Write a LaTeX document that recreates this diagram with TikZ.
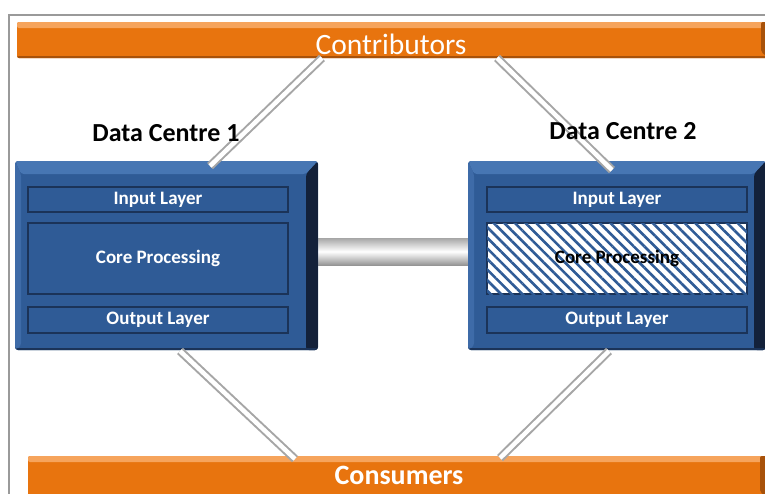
\documentclass[tikz,border=0pt]{standalone}
\usepackage{fontspec}
\setmainfont{Carlito}
\usetikzlibrary{patterns.meta}
\definecolor{orng}{HTML}{E8740E}
\definecolor{orngl}{HTML}{F6A45C}
\definecolor{orngd}{HTML}{A8520A}
\definecolor{boxblue}{HTML}{2F5B96}
\definecolor{boxtop}{HTML}{4776B3}
\definecolor{boxside}{HTML}{13213A}
\definecolor{boxleft}{HTML}{3E6BA8}
\definecolor{rowline}{HTML}{1B3358}
\definecolor{linkgray}{HTML}{A6A6A6}
\definecolor{framegray}{HTML}{9A9A9A}
\tikzset{
  barnode/.style={fill=orng, rounded corners=2pt, inner sep=0pt,
    path picture={
      \fill[orngl] (path picture bounding box.north west) rectangle ([yshift=-6pt]path picture bounding box.north east);
      \fill[orngd] ([yshift=2pt]path picture bounding box.south west) rectangle (path picture bounding box.south east);
      \fill[orngd] ([xshift=-8pt]path picture bounding box.north east) -- (path picture bounding box.north east) -- (path picture bounding box.south east) -- ([xshift=-8pt,yshift=6pt]path picture bounding box.south east) -- cycle;
    }},
  bartext/.style={text=white, inner sep=0pt, font=\fontsize{29.5}{31}\selectfont},
  dcbox/.style={fill=boxblue, rounded corners=3pt, inner sep=0pt,
    minimum height=189pt,
    path picture={
      \fill[boxtop] (path picture bounding box.north west) -- (path picture bounding box.north east) -- ([xshift=-12pt,yshift=-13pt]path picture bounding box.north east) -- ([xshift=6pt,yshift=-13pt]path picture bounding box.north west) -- cycle;
      \fill[boxleft] (path picture bounding box.north west) -- ([xshift=6pt,yshift=-13pt]path picture bounding box.north west) -- ([xshift=6pt,yshift=4pt]path picture bounding box.south west) -- (path picture bounding box.south west) -- cycle;
      \fill[boxside] (path picture bounding box.north east) -- (path picture bounding box.south east) -- ([xshift=-12pt]path picture bounding box.south east) -- ([xshift=-12pt,yshift=-13pt]path picture bounding box.north east) -- cycle;
      \fill[rowline] ([yshift=2pt]path picture bounding box.south west) rectangle (path picture bounding box.south east);
    }},
  rowbox/.style={fill=boxblue, draw=rowline, line width=1.6pt, minimum width=260pt,
    inner sep=0pt, text=white, font=\bfseries\fontsize{19}{21}\selectfont},
  hatchbox/.style={rowbox, fill=white, text=black,
    postaction={pattern={Lines[angle=-45,distance=7.5pt,line width=2.6pt]}, pattern color=boxblue}},
  dclabel/.style={font=\bfseries\fontsize{26}{28}\selectfont, inner sep=0pt},
  link/.style={draw=linkgray, line width=2pt, double=white, double distance=4.5pt},
  tube/.style={inner sep=0pt, top color=linkgray, bottom color=linkgray!90!black, middle color=white}
}
\begin{document}
\begin{tikzpicture}[x=1pt,y=-1pt]
\useasboundingbox (0,0) rectangle (765,493);
\fill[white] (0,0) rectangle (765,493);
% frame
\draw[framegray, line width=1.8pt] (9,500) -- (9,15) -- (770,15);

% horizontal link between data centres
\node[tube, minimum width=156pt, minimum height=27pt] (hlink) at (393,251.5) {};

% bars
\node[barnode, minimum width=752pt, minimum height=36pt] (contrib) at (393,40) {};
\node[bartext] (contribt) at (391,44) {Contributors};
\node[barnode, minimum width=740pt, minimum height=42pt] (consum) at (398,477) {};
\node[bartext, font=\bfseries\fontsize{28}{30}\selectfont] (consumt) at (399,475) {Consumers};

% data centre 1
\node[dcbox, minimum width=303pt] (dc1) at (166.5,255.5) {};
\node[rowbox, minimum height=25pt] (in1) at (158,199.5) {Input Layer};
\node[rowbox, minimum height=71pt] (core1) at (158,258.5) {Core Processing};
\node[rowbox, minimum height=26pt] (out1) at (158,320) {Output Layer};

% data centre 2
\node[dcbox, minimum width=298pt] (dc2) at (617,255.5) {};
\node[rowbox, minimum height=25pt] (in2) at (617,199.5) {Input Layer};
\node[hatchbox, minimum height=71pt] (core2) at (617,258.5) {Core Processing};
\node[rowbox, minimum height=26pt] (out2) at (617,320) {Output Layer};

% diagonal connectors
\coordinate (a1) at (322,58);
\coordinate (b1) at (210,166);
\coordinate (a2) at (497,58);
\coordinate (b2) at (612,170);
\coordinate (a3) at (180,351);
\coordinate (b3) at (295,459);
\coordinate (a4) at (609,351);
\coordinate (b4) at (500,458);
\draw[link] (a1) -- (b1);
\draw[link] (a2) -- (b2);
\draw[link] (a3) -- (b3);
\draw[link] (a4) -- (b4);

% labels
\node[dclabel] (lab1) at (166,133) {Data Centre 1};
\node[dclabel] (lab2) at (623,131) {Data Centre 2};
\end{tikzpicture}
\end{document}
